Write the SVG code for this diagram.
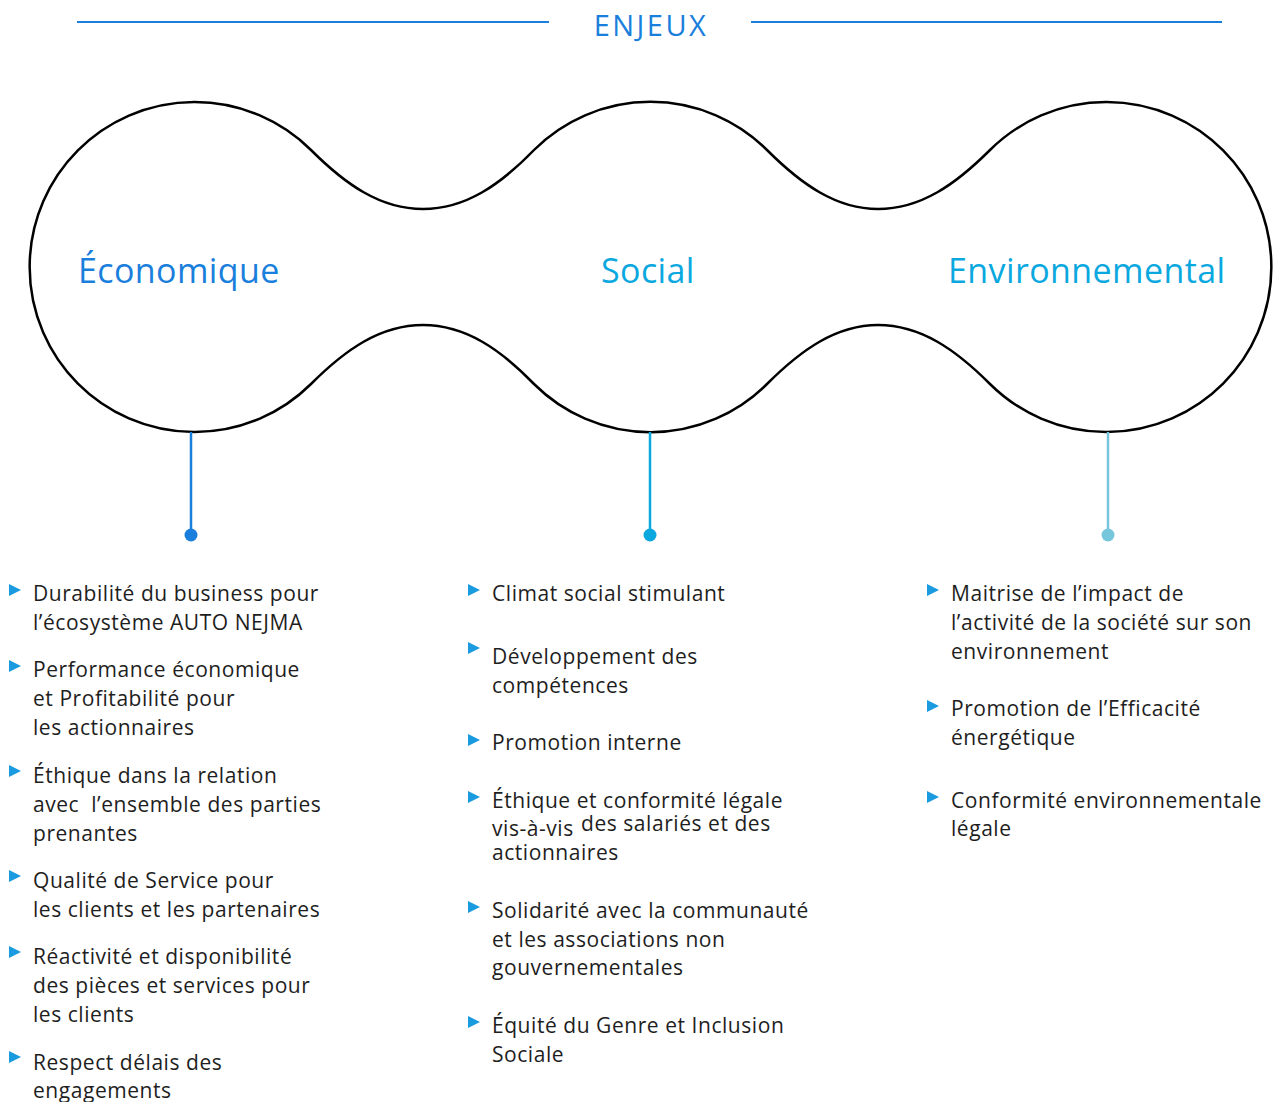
<svg xmlns="http://www.w3.org/2000/svg" width="1275" height="1102" viewBox="0 0 1275 1102">
<defs>
<style>
.t{font-family:"Open Sans","Liberation Sans",sans-serif;font-size:21px;letter-spacing:0.55px;fill:#1e1e1e}
.h{font-family:"Open Sans","Liberation Sans",sans-serif;font-size:34px;letter-spacing:0.4px}
.b{fill:#1a9be0}
</style>
<polygon id="tri" points="0,0 12,6 0,12"/>
</defs>
<rect width="1275" height="1102" fill="#fff"/>
<g id="title">
<line x1="77" y1="22" x2="549" y2="22" stroke="#1a7fdc" stroke-width="2"/>
<line x1="751" y1="22" x2="1222" y2="22" stroke="#1a7fdc" stroke-width="2"/>
<text x="651" y="36" text-anchor="middle" font-family="Open Sans, Liberation Sans, sans-serif" font-size="29" letter-spacing="2.5" fill="#1a7fdc">ENJEUX</text>
</g>
<g id="shape">
<path d="M311,150 C345,184 380,209 423,209 C466,209 501,184 534,150 A165,165 0 0 1 767,150 C801,184 836,209 878,209 C921,209 956,184 990,150 A165,165 0 1 1 990,384 C956,350 921,325 878,325 C836,325 801,350 767,384 A165,165 0 0 1 534,384 C501,350 466,325 423,325 C380,325 345,350 311,384 A165,165 0 1 1 311,150 Z" fill="none" stroke="#000" stroke-width="2.5"/>
</g>
<g id="node-economique">
<text class="h" x="78" y="283" fill="#1a7fdc">Économique</text>
</g>
<g id="node-social">
<text class="h" x="601" y="283" fill="#0aa8df">Social</text>
</g>
<g id="node-environnemental">
<text class="h" x="948" y="283" fill="#0aa8df">Environnemental</text>
</g>
<g id="connectors">
<line x1="191" y1="432" x2="191" y2="535" stroke="#1a7fdc" stroke-width="2.5"/>
<circle cx="191" cy="535" r="6.5" fill="#1a7fdc"/>
<line x1="650" y1="432" x2="650" y2="535" stroke="#0aa8df" stroke-width="2.5"/>
<circle cx="650" cy="535" r="6.5" fill="#0aa8df"/>
<line x1="1108" y1="432" x2="1108" y2="535" stroke="#76c7dc" stroke-width="2.5"/>
<circle cx="1108" cy="535" r="6.5" fill="#76c7dc"/>
</g>
<g id="list-economique">
<use href="#tri" class="b" x="9" y="584"/>
<text class="t" x="33" y="601">Durabilité du business pour</text>
<text class="t" x="33" y="630">l’écosystème AUTO NEJMA</text>
<use href="#tri" class="b" x="9" y="660"/>
<text class="t" x="33" y="677">Performance économique</text>
<text class="t" x="33" y="706">et Profitabilité pour</text>
<text class="t" x="33" y="735">les actionnaires</text>
<use href="#tri" class="b" x="9" y="765"/>
<text class="t" x="33" y="783">Éthique dans la relation</text>
<text class="t" x="33" y="812" xml:space="preserve">avec  l’ensemble des parties</text>
<text class="t" x="33" y="841">prenantes</text>
<use href="#tri" class="b" x="9" y="870"/>
<text class="t" x="33" y="888">Qualité de Service pour</text>
<text class="t" x="33" y="917">les clients et les partenaires</text>
<use href="#tri" class="b" x="9" y="946"/>
<text class="t" x="33" y="964">Réactivité et disponibilité</text>
<text class="t" x="33" y="993">des pièces et services pour</text>
<text class="t" x="33" y="1022">les clients</text>
<use href="#tri" class="b" x="9" y="1051"/>
<text class="t" x="33" y="1070">Respect délais des</text>
<text class="t" x="33" y="1098">engagements</text>
</g>
<g id="list-social">
<use href="#tri" class="b" x="468" y="584"/>
<text class="t" x="492" y="601">Climat social stimulant</text>
<use href="#tri" class="b" x="468" y="642"/>
<text class="t" x="492" y="664">Développement des</text>
<text class="t" x="492" y="693">compétences</text>
<use href="#tri" class="b" x="468" y="734"/>
<text class="t" x="492" y="750">Promotion interne</text>
<use href="#tri" class="b" x="468" y="791"/>
<text class="t" x="492" y="808">Éthique et conformité légale</text>
<text class="t" x="492" y="836">vis-à-vis<tspan x="581" dy="-5">des salariés et des</tspan></text>
<text class="t" x="492" y="860">actionnaires</text>
<use href="#tri" class="b" x="468" y="901"/>
<text class="t" x="492" y="918">Solidarité avec la communauté</text>
<text class="t" x="492" y="947">et les associations non</text>
<text class="t" x="492" y="975">gouvernementales</text>
<use href="#tri" class="b" x="468" y="1016"/>
<text class="t" x="492" y="1033">Équité du Genre et Inclusion</text>
<text class="t" x="492" y="1062">Sociale</text>
</g>
<g id="list-environnemental">
<use href="#tri" class="b" x="927" y="584"/>
<text class="t" x="951" y="601">Maitrise de l’impact de</text>
<text class="t" x="951" y="630">l’activité de la société sur son</text>
<text class="t" x="951" y="659">environnement</text>
<use href="#tri" class="b" x="927" y="700"/>
<text class="t" x="951" y="716">Promotion de l’Efficacité</text>
<text class="t" x="951" y="745">énergétique</text>
<use href="#tri" class="b" x="927" y="791"/>
<text class="t" x="951" y="808">Conformité environnementale</text>
<text class="t" x="951" y="836">légale</text>
</g>
</svg>
